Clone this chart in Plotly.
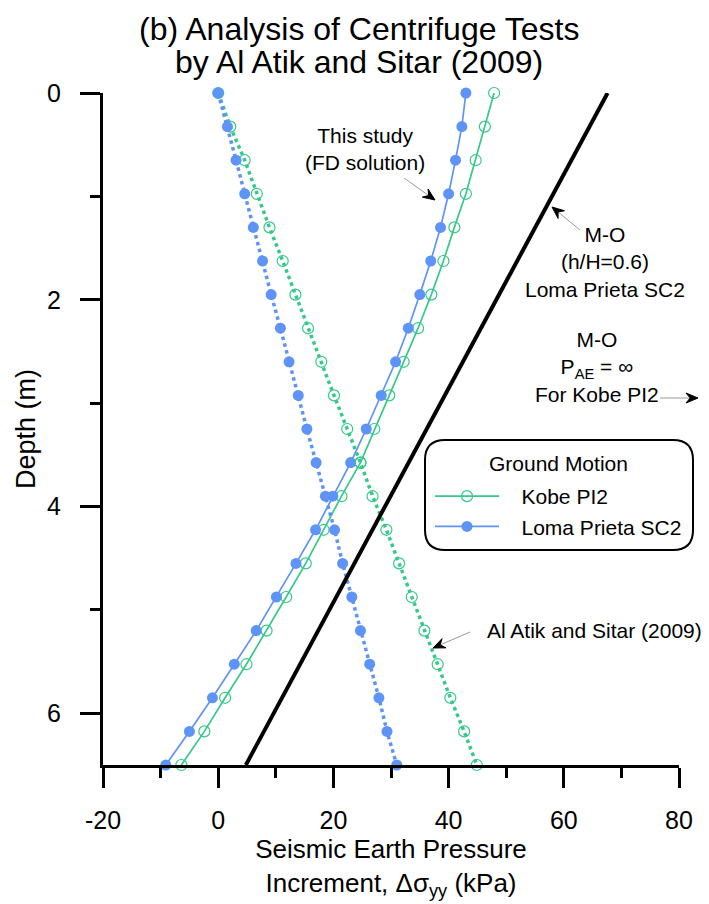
import math
import plotly.graph_objects as go

# ---------------- data ----------------
depth = [0.0, 0.325, 0.65, 0.975, 1.3, 1.625, 1.95, 2.275, 2.6, 2.925, 3.25,
         3.575, 3.9, 4.225, 4.55, 4.875, 5.2, 5.525, 5.85, 6.175, 6.5]

fd_kobe = [47.9, 46.3, 44.7, 43.0, 41.0, 39.1, 37.0, 34.7, 32.2, 29.7, 27.1,
           24.7, 21.4, 18.3, 15.2, 11.8, 8.4, 4.9, 1.2, -2.4, -6.4]
fd_loma = [43.0, 42.3, 41.2, 40.0, 38.6, 36.9, 35.0, 33.0, 30.8, 28.3, 25.7,
           23.0, 19.9, 16.9, 13.5, 10.1, 6.6, 2.8, -1.0, -5.0, -9.1]
aa_kobe = [0.0, 2.1, 4.6, 6.7, 8.9, 11.2, 13.4, 15.6, 17.9, 20.1, 22.4,
           24.7, 26.8, 29.2, 31.4, 33.6, 35.8, 38.1, 40.3, 42.7, 44.9]
aa_loma = [0.0, 1.6, 3.1, 4.6, 6.1, 7.7, 9.2, 10.8, 12.3, 13.9, 15.4,
           17.0, 18.6, 20.2, 21.6, 23.2, 24.7, 26.3, 27.9, 29.3, 31.0]

mo_x = [67.6, 4.8]
mo_depth = [0.0, 6.5]

x_ticks = [-20, 0, 20, 40, 60, 80]
x_minor_ticks = [-10, 10, 30, 50, 70]
y_ticks = [0, 2, 4, 6]
y_minor_ticks = [1, 3, 5]

GREEN = "#35C98A"
BLUE = "#5E93F7"
FONT = "Liberation Sans, Arial, sans-serif"
NB = "\u00a0"

# page layout (page pixels; the page body adds an 8px margin)
OFF = 8
PAGE_W, PAGE_H = 709, 904
PL, PR, PT, PB = 103, 679, 93, 765
W, H = PAGE_W - OFF, PAGE_H - OFF
PW, PH = PR - PL, PB - PT


def px(xp, yp):
    return (xp - PL) / PW, (PB - yp) / PH


fig = go.Figure()

# FD solutions (this study)
fig.add_trace(go.Scatter(
    x=fd_kobe, y=depth, mode="lines+markers", name=NB * 3 + "Kobe PI2",
    line=dict(color=GREEN, width=1.7),
    marker=dict(symbol="circle-open", size=11, color=GREEN, line=dict(width=1.2)),
    legendgroup="k", cliponaxis=False))
fig.add_trace(go.Scatter(
    x=fd_loma, y=depth, mode="lines+markers", name=NB * 3 + "Loma Prieta SC2",
    line=dict(color=BLUE, width=1.7),
    marker=dict(symbol="circle", size=11, color=BLUE),
    legendgroup="l", cliponaxis=False))

# Al Atik and Sitar (2009)
fig.add_trace(go.Scatter(
    x=aa_kobe, y=depth, mode="lines+markers", showlegend=False,
    line=dict(color=GREEN, width=3.5, dash="dot"),
    marker=dict(symbol="circle-open", size=11, color=GREEN, line=dict(width=1.2)),
    cliponaxis=False))
fig.add_trace(go.Scatter(
    x=aa_loma, y=depth, mode="lines+markers", showlegend=False,
    line=dict(color=BLUE, width=3.5, dash="dot"),
    marker=dict(symbol="circle", size=11, color=BLUE),
    cliponaxis=False))

# M-O line
fig.add_trace(go.Scatter(
    x=mo_x, y=mo_depth, mode="lines", showlegend=False,
    line=dict(color="black", width=4), cliponaxis=False))

# ---------------- annotations / shapes ----------------
annotations = []
shapes = []


def text_ann(text, xp, yp, size=21):
    x, y = px(xp, yp)
    annotations.append(dict(text=text, x=x, y=y, xref="paper", yref="paper",
                            showarrow=False, xanchor="center", yanchor="middle",
                            font=dict(size=size, color="black", family=FONT)))


def arrow(tail, head, L=12, w=5):
    dx, dy = head[0] - tail[0], head[1] - tail[1]
    n = math.hypot(dx, dy)
    ux, uy = dx / n, dy / n
    nx, ny = -uy, ux
    bx, by = head[0] - ux * L, head[1] - uy * L
    x0, y0 = px(*tail)
    x1, y1 = px(bx + ux * 4, by + uy * 4)
    shapes.append(dict(type="line", xref="paper", yref="paper",
                       x0=x0, y0=y0, x1=x1, y1=y1,
                       line=dict(color="#9a9a9a", width=1)))
    pts = [head, (bx + nx * w, by + ny * w),
           (head[0] - ux * L * 0.65, head[1] - uy * L * 0.65),
           (bx - nx * w, by - ny * w)]
    pp = [px(*p) for p in pts]
    path = "M " + " L ".join(f"{a},{b}" for a, b in pp) + " Z"
    shapes.append(dict(type="path", xref="paper", yref="paper", path=path,
                       fillcolor="black", line=dict(color="black", width=1)))


# title (two lines)
text_ann("(b) Analysis of Centrifuge Tests", 359, 29, size=32)
text_ann("by Al Atik and Sitar (2009)", 359, 62, size=32)

text_ann("This study<br>(FD solution)", 365, 149)
arrow((404, 178), (435, 200))

text_ann("M-O<br>(h/H=0.6)<br>Loma Prieta SC2", 605, 262)
arrow((580, 230), (552, 207))

text_ann("M-O<br>P<sub>AE</sub> = ∞<br>For Kobe PI2", 597, 367)
arrow((660, 398), (698, 398))

text_ann("Al Atik and Sitar (2009)", 594, 630)
arrow((470, 632), (433, 648))

# legend title
text_ann("Ground Motion", 558, 463)

# rounded legend box
bx0, by1 = px(425, 440)
bx1, by0 = px(693, 550)
rx, ry = 20 / PW, 20 / PH
box = (f"M {bx0+rx},{by1} L {bx1-rx},{by1} Q {bx1},{by1} {bx1},{by1-ry} "
       f"L {bx1},{by0+ry} Q {bx1},{by0} {bx1-rx},{by0} L {bx0+rx},{by0} "
       f"Q {bx0},{by0} {bx0},{by0+ry} L {bx0},{by1-ry} Q {bx0},{by1} {bx0+rx},{by1} Z")
shapes.append(dict(type="path", path=box, xref="paper", yref="paper",
                   line=dict(color="black", width=2), fillcolor="rgba(0,0,0,0)"))

lx, ly = px(430, 476)

fig.update_layout(
    width=W, height=H,
    margin=dict(l=PL - OFF, r=PAGE_W - PR, t=PT - OFF, b=PAGE_H - PB),
    paper_bgcolor="white", plot_bgcolor="white",
    font=dict(family=FONT, color="black"),
    xaxis=dict(range=[-20, 80], tickvals=x_ticks, ticktext=[str(v) for v in x_ticks],
               ticks="outside", ticklen=20, tickwidth=3, tickcolor="black",
               showline=True, linewidth=3, linecolor="black",
               showgrid=False, zeroline=False,
               minor=dict(tickmode="array", tickvals=x_minor_ticks, ticks="outside",
                          ticklen=10, tickwidth=3, tickcolor="black", showgrid=False),
               tickfont=dict(size=25), ticklabelstandoff=11,
               title=dict(text="Seismic Earth Pressure<br>Increment, Δσ<sub>yy</sub> (kPa)",
                          font=dict(size=26), standoff=5)),
    yaxis=dict(range=[6.5, 0], tickvals=y_ticks, ticktext=[str(v) for v in y_ticks],
               ticks="outside", ticklen=20, tickwidth=3, tickcolor="black",
               showline=True, linewidth=3, linecolor="black",
               showgrid=False, zeroline=False,
               minor=dict(tickmode="array", tickvals=y_minor_ticks, ticks="outside",
                          ticklen=10, tickwidth=3, tickcolor="black", showgrid=False),
               tickfont=dict(size=25), ticklabelstandoff=14,
               title=dict(text="Depth (m)", font=dict(size=27), standoff=4)),
    legend=dict(x=lx, y=ly, xanchor="left", yanchor="top",
                bgcolor="rgba(0,0,0,0)", borderwidth=0,
                font=dict(size=21, family=FONT, color="black"),
                tracegroupgap=0, itemwidth=64),
    shapes=shapes,
    annotations=annotations,
)

fig.write_html("out.html")
